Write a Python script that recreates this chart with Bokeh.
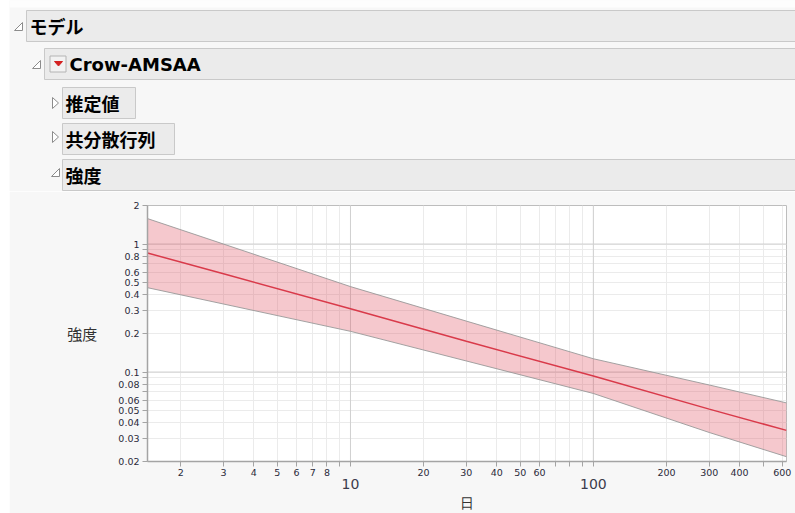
from bokeh.plotting import figure
from bokeh.models import Range1d, FixedTicker, Span, LogAxis
from bokeh.layouts import column, row
from bokeh.core.properties import value
from bokeh.embed import file_html
from bokeh.resources import INLINE

# ---------------- data ----------------
days = [1.46, 3, 10, 30, 100, 300, 624]
intensity = [0.851, 0.585, 0.312, 0.174, 0.093, 0.0513, 0.0350]
upper = [1.58, 1.0, 0.465, 0.25, 0.127, 0.0792, 0.0574]
lower = [0.456, 0.34, 0.208, 0.122, 0.068, 0.0337, 0.0218]

x_limits = [1.46, 624]
y_limits = [0.02, 2]

x_major = [10, 100]
x_major_labels = ["10", "100"]
x_minor_labeled = [2, 3, 4, 5, 6, 7, 8, 20, 30, 40, 50, 60, 200, 300, 400, 600]
x_minor_labels = ["2", "3", "4", "5", "6", "7", "8", "20", "30", "40", "50", "60",
                  "200", "300", "400", "600"]
x_minor_unlabeled = [9, 70, 80, 90, 500]

y_major = [0.1, 1]
y_major_labels = ["0.1", "1"]
y_minor_labeled = [0.02, 0.03, 0.04, 0.05, 0.06, 0.08, 0.2, 0.3, 0.4, 0.5, 0.6, 0.8, 2]
y_minor_labels = ["0.02", "0.03", "0.04", "0.05", "0.06", "0.08", "0.2", "0.3", "0.4",
                  "0.5", "0.6", "0.8", "2"]
y_minor_unlabeled = [0.07, 0.09, 0.7, 0.9]

x_title = "日"
y_title = "強度"
heading_texts = ["モデル", "Crow-AMSAA", "推定値", "共分散行列", "強度"]

# ---------------- styling ----------------
BG = "#f7f7f7"
LM = 9          # white page strip on the left
W = 795 - LM
HH = 191
PH = 322
AX = "#a4a4a4"
LBL = "#2a2a3a"

# white strip at the left edge of the report
strip = figure(width=LM, height=HH + PH, toolbar_location=None, output_backend="svg",
               min_border=0, background_fill_color="#ffffff", border_fill_color="#ffffff",
               outline_line_color=None)
strip.axis.visible = False
strip.grid.visible = False

# ---------------- report header (outline boxes) ----------------
hdr = figure(width=W, height=HH, x_range=Range1d(LM, 795), y_range=Range1d(HH, 0),
             toolbar_location=None, output_backend="svg", min_border=0,
             background_fill_color=BG, border_fill_color=BG, outline_line_color=None)
hdr.axis.visible = False
hdr.grid.visible = False

hdr.quad(left=[LM], right=[800], top=[0], bottom=[7], fill_color="#fdfdfd",
         line_color=None)

box_left = [26, 44, 62, 62, 62]
box_right = [805, 805, 135, 174, 805]
box_top = [10, 48, 87, 123, 159]
box_bottom = [41, 79, 118, 154, 190]
hdr.quad(left=box_left, right=box_right, top=box_top, bottom=box_bottom,
         fill_color="#ebebeb", line_color="#c9c9c9", line_width=1)

txt_x = [29, 69, 65, 65, 65]
txt_y = [25.5, 63.5, 102.5, 138.5, 174.5]
fonts = ["Noto Sans CJK JP", "DejaVu Sans", "Noto Sans CJK JP", "Noto Sans CJK JP", "Noto Sans CJK JP"]
for tx, ty, tt, ff in zip(txt_x, txt_y, heading_texts, fonts):
    hdr.text(x=[tx], y=[ty], text=[tt], text_font=value(ff), text_font_size="18px",
             text_font_style="bold", text_baseline="middle", text_align="left",
             text_color="#000000")

# disclosure triangles
open_tri_xs = [[14, 22, 22], [32, 40, 40], [51, 59, 59]]
open_tri_ys = [[30, 30, 22], [68, 68, 60], [176, 176, 168]]
hdr.patches(xs=open_tri_xs, ys=open_tri_ys, fill_color="#ffffff", line_color="#8c8c8c",
            line_width=1)
closed_tri_xs = [[52, 52, 58], [52, 52, 58]]
closed_tri_ys = [[97, 108, 102.5], [131, 142, 136.5]]
hdr.patches(xs=closed_tri_xs, ys=closed_tri_ys, fill_color="#ffffff", line_color="#8c8c8c",
            line_width=1)
# red popup icon
hdr.quad(left=[49.5], right=[65.5], top=[55.5], bottom=[71.5], fill_color="#f2f2f2",
         line_color="#b4b4b4")
hdr.patch(x=[54, 62, 58], y=[61, 61, 65.5], fill_color="#d42222", line_color="#d42222")

# ---------------- intensity plot ----------------
p = figure(width=W, height=PH, x_axis_type="log", y_axis_type="log",
           x_range=Range1d(*x_limits), y_range=Range1d(*y_limits),
           toolbar_location=None, output_backend="svg",
           min_border_left=147 - LM, min_border_right=9, min_border_top=14,
           min_border_bottom=52,
           background_fill_color="#ffffff", border_fill_color=BG,
           outline_line_color="#bdbdbd", outline_line_width=1)

for fig in (strip, hdr, p):
    try:
        fig.frame_align = False
    except Exception:
        pass

xt = FixedTicker(ticks=x_minor_labeled + x_major, minor_ticks=x_minor_unlabeled)
yt = FixedTicker(ticks=y_minor_labeled + y_major, minor_ticks=y_minor_unlabeled)
p.xaxis.ticker = xt
p.yaxis.ticker = yt
p.xgrid.ticker = xt
p.ygrid.ticker = yt

x_over = {v: s for v, s in zip(x_minor_labeled, x_minor_labels)}
x_over.update({v: "" for v in x_major})
y_over = {v: s for v, s in zip(y_minor_labeled, y_minor_labels)}
y_over.update({v: s for v, s in zip(y_major, y_major_labels)})
p.xaxis.major_label_overrides = x_over
p.yaxis.major_label_overrides = y_over

for ax in (p.xaxis, p.yaxis):
    ax.axis_line_color = AX
    ax.axis_line_width = 1.5
    ax.major_tick_line_color = AX
    ax.minor_tick_line_color = AX
    ax.major_tick_in = 0
    ax.minor_tick_in = 0
    ax.major_tick_out = 5
    ax.minor_tick_out = 5
    ax.major_label_text_font = "DejaVu Sans"
    ax.major_label_text_font_size = "9.5px"
    ax.major_label_text_color = LBL
p.xaxis.major_label_standoff = 2
p.yaxis.major_label_standoff = 3

p.yaxis.axis_label = y_title
p.yaxis.axis_label_orientation = "horizontal"
p.yaxis.axis_label_text_font = "Noto Sans CJK JP"
p.yaxis.axis_label_text_font_style = "normal"
p.yaxis.axis_label_text_font_size = "15px"
p.yaxis.axis_label_text_color = "#333333"
p.yaxis.axis_label_standoff = 18

# second x axis row: large decade labels and the axis title
big_x = LogAxis(ticker=FixedTicker(ticks=x_major, minor_ticks=[]),
                major_label_overrides={v: s for v, s in zip(x_major, x_major_labels)},
                axis_line_color=None, major_tick_line_color=None, minor_tick_line_color=None,
                major_tick_out=0, major_tick_in=0, minor_tick_out=0, minor_tick_in=0,
                major_label_standoff=0, major_label_text_font="DejaVu Sans",
                major_label_text_font_size="14px", major_label_text_color="#3c3c4c",
                axis_label=x_title, axis_label_standoff=3,
                axis_label_text_font="DejaVu Sans", axis_label_text_font_style="normal",
                axis_label_text_font_size="14px", axis_label_text_color="#333333")
p.add_layout(big_x, "below")

for g in (p.xgrid, p.ygrid):
    g.grid_line_color = "#ebebeb"
    g.grid_line_width = 1
    g.minor_grid_line_color = "#ebebeb"
    g.minor_grid_line_width = 1

# darker decade grid lines
for v in x_major:
    p.add_layout(Span(location=v, dimension="height", line_color="#d0d0d0", line_width=1,
                      level="underlay"))
for v in y_major:
    p.add_layout(Span(location=v, dimension="width", line_color="#d0d0d0", line_width=1,
                      level="underlay"))

# confidence band and fitted intensity
p.varea(x=days, y1=lower, y2=upper, fill_color="#dd4a5a", fill_alpha=0.3)
p.line(days, upper, line_color="#999999", line_width=1, line_alpha=0.9)
p.line(days, lower, line_color="#999999", line_width=1, line_alpha=0.9)
p.line(days, intensity, line_color="#d93a4a", line_width=1.5)

layout = row(strip, column(hdr, p, spacing=0), spacing=0)
open("out.html", "w").write(file_html(layout, INLINE))
